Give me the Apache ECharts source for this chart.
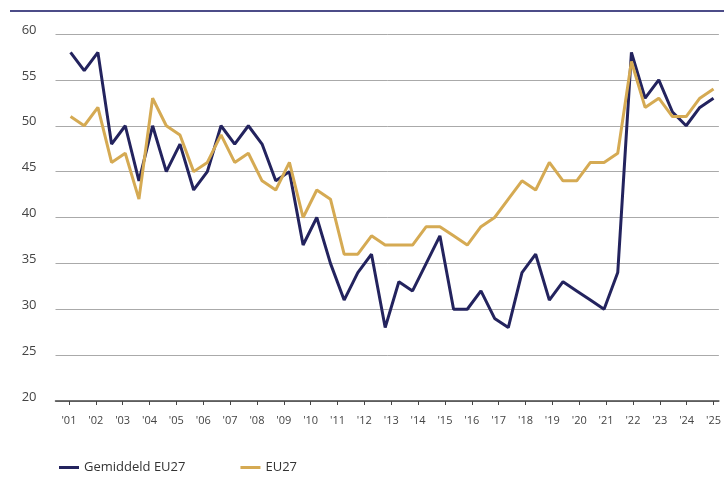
<!DOCTYPE html>
<html>
<head>
    <meta charset="utf-8">
    <title>Gemiddeld EU27</title>
    <script src="https://cdn.jsdelivr.net/npm/echarts@6/dist/echarts.min.js"></script>
    <style>
        html, body { margin: 0; padding: 0; background: #fff; }
    </style>
</head>
<body>
<div id="main" style="width: 724px;height:487px;"></div>
<script type="text/javascript">
    // jaartallen op de x-as
    var years = [1, 2, 3, 4, 5, 6, 7, 8, 9, 10, 11, 12, 13, 14, 15, 16, 17, 18, 19, 20, 21, 22, 23, 24, 25];
    var yTicks = [20, 25, 30, 35, 40, 45, 50, 55, 60];

    // halfjaarlijkse waarden
    var gemiddeld = [58, 56, 58, 48, 50, 44, 50, 45, 48, 43, 45, 50, 48, 50, 48, 44,
        45, 37, 40, 35, 31, 34, 36, 28, 33, 32, 35, 38, 30, 30, 32, 29,
        28, 34, 36, 31, 33, 32, 31, 30, 34, 58, 53, 55, 51.5, 50, 52, 53];
    var eu27 = [51, 50, 52, 46, 47, 42, 53, 50, 49, 45, 46, 49, 46, 47, 44, 43,
        46, 40, 43, 42, 36, 36, 38, 37, 37, 37, 39, 39, 38, 37, 39, 40,
        42, 44, 43, 46, 44, 44, 46, 46, 47, 57, 52, 53, 51, 51, 53, 54];

    // eerste en laatste meting op de jaar-as
    var xFirst = 1.06, xLast = 25;

    function toPairs(arr) {
        var step = (xLast - xFirst) / (arr.length - 1);
        return arr.map(function (v, i) { return [xFirst + i * step, v]; });
    }

    var myChart = echarts.init(document.getElementById('main'));

    myChart.setOption({
        animation: false,
        textStyle: { fontFamily: 'Open Sans' },
        graphic: [{
            type: 'line',
            shape: { x1: 10, y1: 11, x2: 724, y2: 11 },
            style: { stroke: '#4c4c88', lineWidth: 2 }
        }],
        legend: {
            left: 54,
            top: 456,
            icon: 'rect',
            itemWidth: 20,
            itemHeight: 3,
            itemGap: 55,
            textStyle: { color: '#333', fontSize: 13 },
            data: ['Gemiddeld EU27', 'EU27']
        },
        grid: {
            left: 55.5,
            right: 0,
            top: 34,
            bottom: 86
        },
        xAxis: {
            type: 'value',
            min: 0.5,
            max: 25.2,
            axisLine: { lineStyle: { color: '#444', width: 1.5 } },
            axisTick: {
                show: true,
                length: 4,
                customValues: years,
                lineStyle: { color: '#444' }
            },
            axisLabel: {
                customValues: years,
                margin: 14,
                color: '#444',
                fontSize: 11,
                formatter: function (v) {
                    return "'" + (v < 10 ? '0' + v : v);
                }
            },
            splitLine: { show: false }
        },
        yAxis: {
            type: 'value',
            min: yTicks[0],
            max: yTicks[yTicks.length - 1],
            interval: 5,
            axisLine: { show: false },
            axisTick: { show: false },
            axisLabel: {
                color: '#444',
                fontSize: 13,
                margin: 19,
                verticalAlign: 'bottom',
                lineHeight: 8
            },
            splitLine: { lineStyle: { color: '#aaa', width: 1 } }
        },
        series: [
            {
                name: 'Gemiddeld EU27',
                type: 'line',
                showSymbol: false,
                symbol: 'none',
                color: '#23235e',
                lineStyle: { width: 3, color: '#23235e' },
                data: toPairs(gemiddeld)
            },
            {
                name: 'EU27',
                type: 'line',
                showSymbol: false,
                symbol: 'none',
                color: '#d5aa53',
                lineStyle: { width: 3, color: '#d5aa53' },
                data: toPairs(eu27)
            }
        ]
    });
</script>
</body>
</html>
